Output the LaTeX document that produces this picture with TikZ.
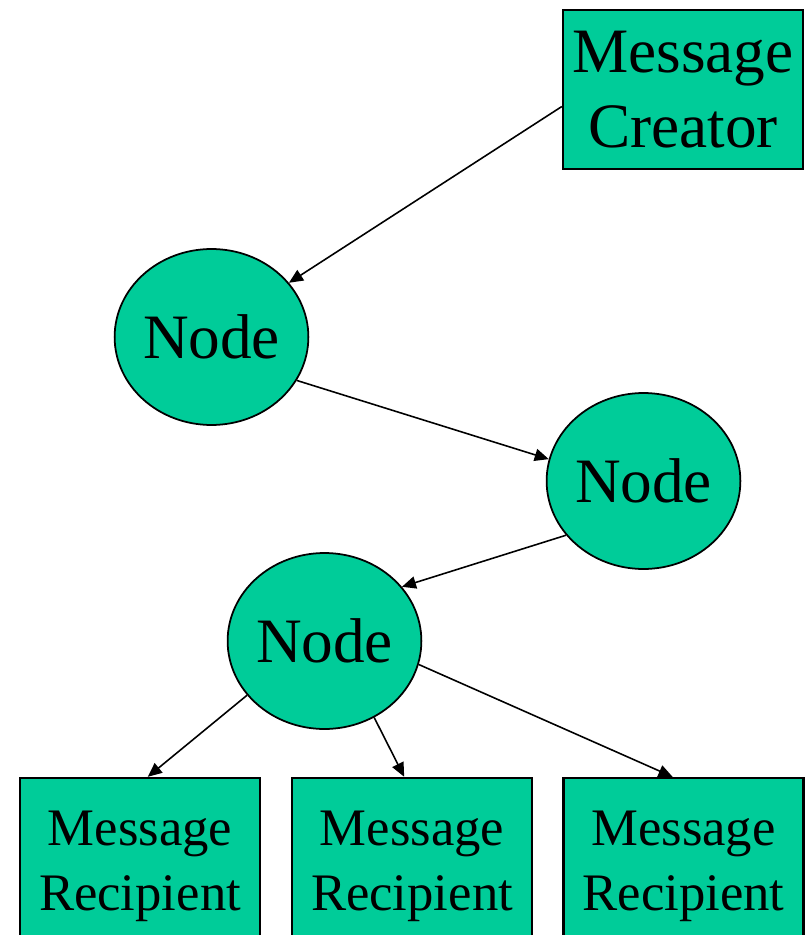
\documentclass[tikz,border=0pt]{standalone}
\usepackage{fontspec}
\setmainfont{Liberation Serif}
\usetikzlibrary{shapes.geometric}
\usetikzlibrary{arrows.meta}
\definecolor{relaygreen}{RGB}{0,204,153}
\tikzset{
  msgbox/.style={draw,line width=1.4pt,fill=relaygreen,inner sep=0pt,align=center,minimum width=4.8cm},
  relay/.style={ellipse,draw,line width=1pt,fill=relaygreen,inner sep=0pt,minimum width=3.86cm,minimum height=3.52cm,font=\fontsize{36}{43}\selectfont},
  hop/.style={-{Triangle[length=8pt,width=7pt]},line width=0.9pt}
}
\newcommand{\creator}[4]{\node[msgbox,minimum height=3.18cm,font=\fontsize{36}{42.6}\selectfont] (#1) at ( #2 , #3 ) {#4};}
\newcommand{\recipient}[4]{\node[msgbox,minimum height=3.52cm,font=\fontsize{30}{37}\selectfont] (#1) at ( #2 , #3 ) {#4};}
\newcommand{\relaynode}[3]{\node[relay] (#1) at ( #2 , #3 ) {Node};}

\begin{document}
\begin{tikzpicture}[x=0.02cm,y=-0.02cm]
        \useasboundingbox (0,0) rectangle (806,935);

        % sender
        \creator{mc}{683}{89.5}{Message\\Creator}

        % relay nodes
        \relaynode{na}{211.5}{337}
        \relaynode{nb}{643.5}{481}
        \relaynode{nc}{324.5}{641}

        % recipients
        \recipient{ra}{140}{866}{Message\\Recipient}
        \recipient{rb}{412}{866}{Message\\Recipient}
        \recipient{rc}{683.5}{866}{Message\\Recipient}

        % hops
        \draw[hop] (mc.188) -- (na.35);
        \draw[hop] (na.-27) -- (nb.167);
        \draw[hop] (nb.215) -- (nc.35);
        \draw[hop] (nc.215) -- (ra.85);
        \draw[hop] (nc.-57) -- (rb.95);
        \draw[hop] (nc.-14) -- (rc.97);
    \end{tikzpicture}
\end{document}
